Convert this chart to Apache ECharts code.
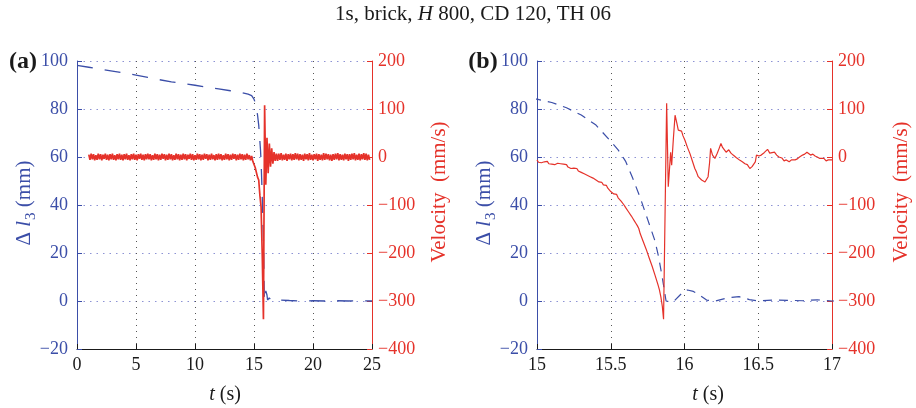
<!DOCTYPE html>
<html>
<head>
<meta charset="utf-8">
<script src="https://cdn.jsdelivr.net/npm/echarts@6/dist/echarts.min.js"></script>
<style>
  html, body { margin: 0; padding: 0; background: #ffffff; }
  #chart { width: 916px; height: 408px; }
</style>
</head>
<body>
<div id="chart"></div>
<script>
// ---- tick labels ----
const xTicksA = [0, 5, 10, 15, 20, 25];
const xTicksB = [15, 15.5, 16, 16.5, 17];
const dispTicks = [-20, 0, 20, 40, 60, 80, 100];
const velTicks = [-400, -300, -200, -100, 0, 100, 200];

// ---- relative displacement Δl3 (mm): [time s, value] ----
const displacement = [
  [0, 98.2], [1, 97.4], [2, 96.6], [3, 95.8], [4, 95.0], [5, 94.1], [6, 93.2],
  [7, 92.2], [8, 91.3], [9, 90.6], [10, 89.9], [11, 89.1], [12, 88.4], [13, 87.6],
  [14, 86.8], [14.5, 86.2], [14.8, 85.6], [15.0, 84.1], [15.1, 82.7], [15.2, 80.5],
  [15.3, 77.5], [15.4, 73.3], [15.5, 66.5], [15.55, 63.0], [15.6, 58.3], [15.65, 51.0],
  [15.7, 43.0], [15.75, 34.0], [15.8, 25.0], [15.825, 18.2], [15.85, 9.5], [15.875, 0.0],
  [15.9, -0.3], [15.93, 0.0], [15.97, 2.5], [16.0, 4.2], [16.02, 4.6], [16.06, 4.0],
  [16.1, 2.5], [16.15, 0.4], [16.21, 0.0], [16.29, 1.3], [16.37, 1.8], [16.44, 0.6],
  [16.5, 0.0], [16.6, 0.4], [16.7, 0.3], [16.8, 0.1], [16.9, 0.5], [17.0, 0.0],
  [18, 0.2], [19, 0.0], [20, 0.1], [21, 0.0], [22, 0.1], [23, 0.0], [24, 0.1], [25, 0.0]
];

// ---- velocity (mm/s), raw record sampled every 0.1 s from t = 1.0 s ----
const velRawStart = 1.0;
const velRawStep = 0.1;
const velocityRaw = [
  5, -6, 7, -5, 6, -7, 4, -6, 7, -5,
  6, -7, 5, -4, 7, -6, 5, -7, 6, -5,
  7, -6, 4, -7, 6, -5, 7, -6, 5, -7,
  6, -5, 7, -6, 4, -7, 6, -5, 7, -6,
  5, -7, 6, -4, 7, -6, 5, -7, 6, -5,
  7, -5, 6, -7, 4, -6, 7, -5, 6, -7,
  5, -6, 7, -4, 6, -7, 5, -6, 7, -5,
  6, -7, 4, -6, 7, -5, 6, -7, 5, -6,
  7, -5, 6, -7, 5, -4, 7, -6, 6, -7,
  4, -6, 7, -5, 6, -7, 5, -6, 7, -4,
  6, -7, 5, -6, 7, -5, 4, -7, 6, -6,
  7, -5, 6, -7, 4, -6, 7, -5, 6, -7,
  5, -6, 7, -4, 6, -7, 5, -6, 7, -5,
  6, -7, 5, -6, 7, -5, 4, -7, 2, -9,
  -8, -22, -18, -42, -48, -80, -104, -205, -338, 108,
  -58, 40, -34, 28, -20, 18, -14, 10, -8, 7,
  -8, 7, -6, 8, -7, 5, -6, 7, -8, 6,
  -5, 7, -7, 6, -6, 8, -5, 7, -7, 6,
  -6, 5, -8, 7, -5, 6, -7, 8, -6, 5,
  -7, 6, -5, 7, -8, 6, -6, 5, -7, 8,
  -6, 7, -5, 6, -7, 5, -8, 6, -6, 7,
  -5, 8, -7, 6, -6, 5, -7, 7, -5, 6,
  -8, 6, -6, 7, -5, 8, -7, 5, -6, 7,
  -7, 6, -5, 8, -6, 7, -7, 5, -6
];

// ---- velocity (mm/s) around the collapse, 15–17 s: [time s, value] ----
const velocityDetail = [
  [15.00, -6], [15.01, -11], [15.02, -7], [15.03, -12], [15.04, -8], [15.05, -10],
  [15.06, -13], [15.07, -9], [15.08, -14], [15.09, -10], [15.10, -15], [15.11, -11],
  [15.12, -16], [15.13, -12], [15.14, -13], [15.15, -17], [15.16, -14], [15.17, -18],
  [15.18, -15], [15.19, -19], [15.20, -16], [15.21, -21], [15.22, -18], [15.23, -24],
  [15.24, -20], [15.25, -23], [15.26, -27], [15.27, -24], [15.28, -29], [15.29, -26],
  [15.30, -32], [15.31, -29], [15.32, -35], [15.33, -33], [15.34, -38], [15.35, -35],
  [15.36, -41], [15.37, -39], [15.38, -44], [15.39, -42], [15.40, -48], [15.41, -46],
  [15.42, -52], [15.43, -55], [15.44, -53], [15.45, -58], [15.46, -61], [15.47, -59],
  [15.48, -65], [15.49, -68], [15.50, -72], [15.51, -70], [15.52, -77], [15.53, -80],
  [15.54, -78], [15.55, -85], [15.56, -88], [15.57, -92], [15.58, -96], [15.59, -100],
  [15.60, -105], [15.61, -108], [15.62, -114], [15.63, -118], [15.64, -123], [15.65, -128],
  [15.66, -133], [15.67, -138], [15.68, -143], [15.69, -149], [15.70, -160], [15.72, -176],
  [15.74, -192], [15.76, -210], [15.78, -227], [15.80, -246], [15.82, -266], [15.83, -277],
  [15.84, -292], [15.85, -312], [15.858, -338], [15.879, 112], [15.890, -62], [15.906, 10],
  [15.913, -17], [15.925, 40], [15.936, 87], [15.947, 72], [15.958, 56], [15.970, 52],
  [15.980, 54], [15.990, 44], [16.003, 35], [16.020, 20], [16.037, 7], [16.055, -10],
  [16.070, -24], [16.082, -32], [16.093, -41], [16.105, -45], [16.116, -48], [16.128, -46],
  [16.139, -52], [16.150, -48], [16.160, -41], [16.170, -12], [16.177, 18], [16.190, 4],
  [16.206, -3], [16.222, 8], [16.235, 18], [16.247, 28], [16.258, 20], [16.270, 24],
  [16.282, 10], [16.300, 15], [16.315, 8], [16.330, 4], [16.350, -1], [16.376, -7],
  [16.392, -10], [16.410, -14], [16.426, -16], [16.443, -24], [16.458, -20], [16.470, -23],
  [16.480, -10], [16.488, 4], [16.505, 2], [16.520, 4], [16.540, 9], [16.563, 16],
  [16.578, 8], [16.590, 4], [16.610, 10], [16.625, 4], [16.640, 0], [16.660, -2],
  [16.675, -8], [16.690, -6], [16.710, -10], [16.725, -6], [16.735, -10], [16.750, -6],
  [16.765, -4], [16.780, 0], [16.800, 4], [16.815, 6], [16.830, 10], [16.840, 8],
  [16.855, 4], [16.870, 6], [16.885, 2], [16.900, 0], [16.917, -3], [16.930, -6],
  [16.945, -3], [16.960, -8], [16.975, -6], [16.985, -9], [17.000, -6]
];

// ---- styling ----
const BLUE = '#3b4ea8';
const RED = '#e5322a';
const INK = '#1a1a1a';
const SERIF = 'Liberation Serif';

const velocityRawSeries = velocityRaw.map(function (v, i) {
  return [+(velRawStart + i * velRawStep).toFixed(2), v];
});

// rich-text token style in the serif face
function tok(color, size, extra) {
  return Object.assign({ fontFamily: SERIF, fontSize: size, fontWeight: 'normal',
                         fontStyle: 'normal', color: color, fill: color }, extra || {});
}

function tickFormatter(v) { return '{t|' + String(v).replace('-', '\u2212') + '}'; }

function xAxis(gridIndex, ticks) {
  return {
    type: 'value', gridIndex: gridIndex,
    min: ticks[0], max: ticks[ticks.length - 1], interval: ticks[1] - ticks[0],
    axisLine: { show: true, onZero: false, lineStyle: { color: INK, width: 1 } },
    axisTick: { show: true, inside: true, length: 5, lineStyle: { color: INK } },
    axisLabel: { margin: 7, showMinLabel: true, showMaxLabel: true,
                 fontFamily: SERIF, fontSize: 18, color: INK,
                 formatter: tickFormatter, rich: { t: tok(INK, 18) } },
    splitLine: { show: true, lineStyle: { color: '#555555', width: 1, type: [1, 5] } }
  };
}

function dispAxis(gridIndex) {
  return {
    type: 'value', gridIndex: gridIndex, position: 'left',
    min: dispTicks[0], max: dispTicks[dispTicks.length - 1], interval: dispTicks[1] - dispTicks[0],
    axisLine: { show: true, onZero: false, lineStyle: { color: BLUE, width: 1 } },
    axisTick: { show: true, inside: true, length: 5, lineStyle: { color: BLUE } },
    axisLabel: { margin: 9, fontFamily: SERIF, fontSize: 18, color: BLUE,
                 formatter: tickFormatter, rich: { t: tok(BLUE, 18) } },
    splitLine: { show: true, lineStyle: { color: '#8d93d4', width: 1, type: [1.5, 5] } }
  };
}

function velAxis(gridIndex) {
  return {
    type: 'value', gridIndex: gridIndex, position: 'right',
    min: velTicks[0], max: velTicks[velTicks.length - 1], interval: velTicks[1] - velTicks[0],
    axisLine: { show: true, onZero: false, lineStyle: { color: RED, width: 1 } },
    axisTick: { show: true, inside: true, length: 5, lineStyle: { color: RED } },
    axisLabel: { margin: 6, fontFamily: SERIF, fontSize: 18, color: RED,
                 formatter: tickFormatter, rich: { t: tok(RED, 18) } },
    splitLine: { show: false }
  };
}

function label(text, x, y, rich, rotation) {
  return {
    type: 'text', x: x, y: y, rotation: rotation || 0, silent: true,
    style: {
      text: text, rich: rich, fontFamily: SERIF, fontSize: 20,
      align: 'center', verticalAlign: 'middle',
      textAlign: 'center', textVerticalAlign: 'middle'
    }
  };
}

const titleRich = { n: tok(INK, 21), i: tok(INK, 21, { fontStyle: 'italic' }) };
const panelRich = { b: tok(INK, 24, { fontWeight: 'bold' }) };
const dispNameRich = {
  n: tok(BLUE, 21),
  i: tok(BLUE, 21, { fontStyle: 'italic' }),
  s: tok(BLUE, 15, { padding: [14, 0, 0, 1] })
};
const velNameRich = { n: tok(RED, 21) };
const tNameRich = { n: tok(INK, 20), i: tok(INK, 20, { fontStyle: 'italic' }) };

const chart = echarts.init(document.getElementById('chart'), null, { renderer: 'canvas' });

chart.setOption({
  backgroundColor: '#ffffff',
  animation: false,
  textStyle: { fontFamily: SERIF },
  grid: [
    { left: 77, top: 61, width: 295, height: 288, containLabel: false },
    { left: 537, top: 61, width: 295, height: 288, containLabel: false }
  ],
  xAxis: [xAxis(0, xTicksA), xAxis(1, xTicksB)],
  yAxis: [dispAxis(0), velAxis(0), dispAxis(1), velAxis(1)],
  series: [
    {
      name: 'Δl3 (a)', type: 'line', xAxisIndex: 0, yAxisIndex: 0,
      data: displacement, showSymbol: false, clip: true,
      lineStyle: { color: BLUE, width: 1.3, type: [16, 12] }
    },
    {
      name: 'Velocity (a)', type: 'line', xAxisIndex: 0, yAxisIndex: 1,
      data: velocityRawSeries, showSymbol: false, clip: true,
      lineStyle: { color: RED, width: 1.7 }
    },
    {
      name: 'Δl3 (b)', type: 'line', xAxisIndex: 1, yAxisIndex: 2,
      data: displacement, showSymbol: false, clip: true,
      lineStyle: { color: BLUE, width: 1.2, type: [9, 7] }
    },
    {
      name: 'Velocity (b)', type: 'line', xAxisIndex: 1, yAxisIndex: 3,
      data: velocityDetail, showSymbol: false, clip: true,
      lineStyle: { color: RED, width: 1.2 }
    }
  ],
  graphic: [
    label('{n|1s, brick, }{i|H}{n| 800, CD 120, TH 06}', 473, 14, titleRich),
    label('{b|(a)}', 23, 62, panelRich),
    label('{b|(b)}', 483, 62, panelRich),
    label('{n|Δ }{i|l}{s|3}{n| (mm)}', 24, 203, dispNameRich, Math.PI / 2),
    label('{n|Δ }{i|l}{s|3}{n| (mm)}', 484, 203, dispNameRich, Math.PI / 2),
    label('{n|Velocity  (mm/s)}', 439, 192, velNameRich, Math.PI / 2),
    label('{n|Velocity  (mm/s)}', 901, 192, velNameRich, Math.PI / 2),
    label('{i|t}{n| (s)}', 225, 395, tNameRich),
    label('{i|t}{n| (s)}', 708, 395, tNameRich)
  ]
});
</script>
</body>
</html>
